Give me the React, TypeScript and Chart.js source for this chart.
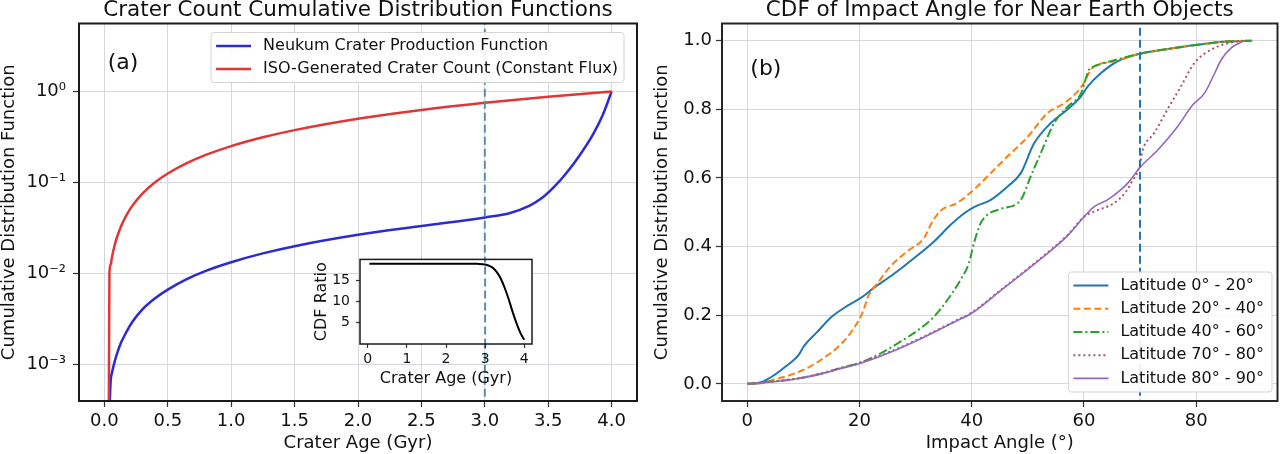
import React, { useEffect, useRef } from 'react';
import { Chart, registerables } from 'chart.js';

Chart.register(...registerables);

const FONT = "'DejaVu Sans', 'Liberation Sans', sans-serif";
const TEXT = '#111111';
const GRID = '#d6d7df';

// ---------- Panel (a): crater count CDFs (log y) ----------
const AGE_ISO = [0.035, 0.04, 0.05, 0.06, 0.08, 0.1, 0.13, 0.17, 0.22, 0.3, 0.4, 0.5, 0.65, 0.8, 1.0, 1.25, 1.5, 2.0, 2.5, 3.0, 3.5, 4.0];
const CDF_ISO = [0.0003, 0.01, 0.0125, 0.015, 0.02, 0.025, 0.0325, 0.0425, 0.055, 0.075, 0.1, 0.125, 0.1625, 0.2, 0.25, 0.3125, 0.375, 0.5, 0.625, 0.75, 0.875, 1.0];
const AGE_NEUKUM = [0.04, 0.05, 0.06, 0.08, 0.1, 0.13, 0.17, 0.22, 0.3, 0.4, 0.5, 0.65, 0.8, 1.0, 1.25, 1.5, 2.0, 2.5, 3.0, 3.2, 3.35, 3.45, 3.55, 3.65, 3.75, 3.85, 3.93, 4.0];
const CDF_NEUKUM = [0.0003, 0.00066, 0.0008, 0.00105, 0.0013, 0.0017, 0.0022, 0.0029, 0.004, 0.0053, 0.0066, 0.0086, 0.0106, 0.0132, 0.0165, 0.0198, 0.0264, 0.033, 0.041, 0.046, 0.055, 0.067, 0.09, 0.13, 0.2, 0.33, 0.55, 1.0];
const AGE_MARK = 3.0;
const X_TICKS_A = [0, 0.5, 1, 1.5, 2, 2.5, 3, 3.5, 4];
const Y_TICKS_A = [0.001, 0.01, 0.1, 1];
const Y_TICK_LABELS_A = ['10\u207B\u00B3', '10\u207B\u00B2', '10\u207B\u00B9', '10\u2070'];

// inset: CDF ratio
const AGE_RATIO = [0.04, 0.5, 1.0, 1.5, 2.0, 2.5, 2.8, 3.0, 3.1, 3.2, 3.3, 3.4, 3.5, 3.6, 3.7, 3.8, 3.9, 4.0];
const CDF_RATIO = [18.9, 18.9, 18.9, 18.9, 18.9, 18.9, 18.85, 18.7, 18.4, 17.9, 16.9, 15.4, 13.2, 10.6, 7.6, 4.9, 2.6, 0.9];
const X_TICKS_INSET = [0, 1, 2, 3, 4];
const Y_TICKS_INSET = [5, 10, 15];

// ---------- Panel (b): impact angle CDFs ----------
const ANG_LAT_0_20 = [0, 2, 4, 6.5, 9.2, 10.1, 12.4, 15.1, 17.8, 20.2, 22.6, 26.1, 29.7, 33.3, 36.3, 38.5, 40.4, 43.4, 46.4, 48.75, 51.1, 54.1, 57.1, 59.5, 60.7, 63.0, 66.0, 70.0, 75.0, 80.3, 85.0, 90.0];
const CDF_LAT_0_20 = [0, 0.002, 0.017, 0.046, 0.085, 0.11, 0.15, 0.196, 0.227, 0.25, 0.28, 0.32, 0.366, 0.415, 0.464, 0.495, 0.515, 0.536, 0.575, 0.614, 0.7, 0.76, 0.8, 0.838, 0.867, 0.905, 0.94, 0.962, 0.976, 0.988, 0.997, 1.0];
const ANG_LAT_20_40 = [0, 3, 4.7, 7.7, 10.7, 13.6, 16.6, 19.0, 20.5, 21.7, 23.2, 25.5, 28.5, 31.5, 33.0, 34.5, 37.4, 40.4, 43.4, 46.4, 50.0, 53.5, 56.5, 58.9, 59.8, 61.5, 65.4, 70.0, 75.0, 80.3, 85.0, 90.0];
const CDF_LAT_20_40 = [0, 0.003, 0.012, 0.026, 0.046, 0.075, 0.114, 0.162, 0.206, 0.26, 0.293, 0.342, 0.386, 0.425, 0.473, 0.505, 0.527, 0.566, 0.614, 0.663, 0.72, 0.789, 0.818, 0.852, 0.872, 0.92, 0.94, 0.962, 0.976, 0.988, 0.997, 1.0];
const ANG_LAT_40_60 = [0, 2.3, 7.7, 13.6, 16.6, 20.2, 23.8, 27.3, 30.9, 33.3, 35.7, 38.0, 39.5, 40.4, 41.6, 42.8, 45.2, 48.75, 50.5, 52.3, 54.7, 57.1, 59.5, 60.9, 61.8, 64.8, 70.0, 75.0, 80.3, 85.0, 90.0];
const CDF_LAT_40_60 = [0, 0.004, 0.012, 0.031, 0.046, 0.062, 0.089, 0.123, 0.162, 0.196, 0.245, 0.303, 0.352, 0.41, 0.468, 0.493, 0.51, 0.536, 0.604, 0.672, 0.76, 0.808, 0.847, 0.915, 0.925, 0.94, 0.962, 0.976, 0.988, 0.997, 1.0];
const ANG_LAT_70_80 = [0, 4.7, 10.7, 16.6, 20.2, 25.5, 31.5, 36.9, 40.2, 45.2, 52.3, 57.1, 60.1, 62.0, 65.4, 67.5, 68.4, 69.9, 70.5, 72.5, 74.9, 77.3, 79.7, 83.3, 87.4, 88.6];
const CDF_LAT_70_80 = [0, 0.007, 0.021, 0.046, 0.062, 0.094, 0.138, 0.182, 0.21, 0.274, 0.366, 0.434, 0.488, 0.503, 0.527, 0.56, 0.585, 0.634, 0.682, 0.73, 0.8, 0.867, 0.935, 0.979, 0.998, 1.0];
const ANG_LAT_80_90 = [0, 4.7, 10.7, 16.6, 20.2, 25.5, 31.5, 36.9, 40.2, 45.2, 52.3, 57.1, 60.1, 61.9, 64.2, 66.6, 68.1, 69.9, 73.2, 76.7, 79.4, 81.5, 83.3, 84.5, 86.25, 88.6];
const CDF_LAT_80_90 = [0, 0.006, 0.02, 0.044, 0.06, 0.092, 0.136, 0.18, 0.208, 0.272, 0.364, 0.432, 0.488, 0.517, 0.536, 0.566, 0.59, 0.629, 0.682, 0.75, 0.813, 0.847, 0.905, 0.945, 0.979, 1.0];
const ANGLE_MARK = 70;
const X_TICKS_B = [0, 20, 40, 60, 80];
const Y_TICKS_B = [0, 0.2, 0.4, 0.6, 0.8, 1.0];

const pts = (xs: number[], ys: number[]) => xs.map((x, i) => ({ x, y: ys[i] }));

// ---------- plugins ----------
const framePlugin = {
  id: 'frame',
  afterDatasetsDraw(chart: any, _a: any, opts: any) {
    if (!opts || !opts.color) return;
    const { ctx, chartArea: ca } = chart;
    ctx.save();
    ctx.strokeStyle = opts.color;
    ctx.lineWidth = opts.width;
    ctx.setLineDash([]);
    ctx.strokeRect(ca.left, ca.top, ca.right - ca.left, ca.bottom - ca.top);
    ctx.restore();
  },
};

const insetBgPlugin = {
  id: 'insetBg',
  beforeDraw(chart: any, _a: any, opts: any) {
    if (!opts || !opts.color) return;
    const { ctx, chartArea: ca } = chart;
    ctx.save();
    ctx.fillStyle = opts.color;
    ctx.fillRect(ca.left, ca.top, ca.right - ca.left, ca.bottom - ca.top);
    ctx.restore();
  },
};

const panelLabelPlugin = {
  id: 'panelLabel',
  afterDraw(chart: any, _a: any, opts: any) {
    if (!opts || !opts.text) return;
    const { ctx, chartArea: ca } = chart;
    ctx.save();
    ctx.font = `${opts.size}px ${FONT}`;
    ctx.fillStyle = TEXT;
    ctx.textAlign = 'center';
    ctx.textBaseline = 'middle';
    ctx.fillText(opts.text, ca.left + opts.fx * (ca.right - ca.left), ca.top + opts.fy * (ca.bottom - ca.top));
    ctx.restore();
  },
};

const boxLegendPlugin = {
  id: 'boxLegend',
  afterDraw(chart: any, _a: any, opts: any) {
    if (!opts || !opts.anchor) return;
    const { ctx, chartArea: ca } = chart;
    const items = chart.data.datasets.filter((d: any) => d.label);
    ctx.save();
    ctx.font = `${opts.fontSize}px ${FONT}`;
    const textW = Math.max(...items.map((d: any) => ctx.measureText(d.label).width));
    const w = opts.padL + opts.lineLen + opts.gap + textW + opts.padR;
    const h = opts.padT + opts.rowH * items.length + opts.padB;
    const x0 = ca.right - opts.dx - w;
    const y0 = opts.anchor === 'upper right' ? ca.top + opts.dy : ca.bottom - opts.dy - h;
    const r = 3;
    ctx.beginPath();
    ctx.moveTo(x0 + r, y0);
    ctx.lineTo(x0 + w - r, y0);
    ctx.quadraticCurveTo(x0 + w, y0, x0 + w, y0 + r);
    ctx.lineTo(x0 + w, y0 + h - r);
    ctx.quadraticCurveTo(x0 + w, y0 + h, x0 + w - r, y0 + h);
    ctx.lineTo(x0 + r, y0 + h);
    ctx.quadraticCurveTo(x0, y0 + h, x0, y0 + h - r);
    ctx.lineTo(x0, y0 + r);
    ctx.quadraticCurveTo(x0, y0, x0 + r, y0);
    ctx.closePath();
    ctx.fillStyle = 'rgba(255,255,255,0.9)';
    ctx.fill();
    ctx.strokeStyle = '#d4d4d4';
    ctx.lineWidth = 1;
    ctx.stroke();
    items.forEach((d: any, i: number) => {
      const yc = y0 + opts.padT + opts.rowH * (i + 0.5);
      const lx = x0 + opts.padL;
      ctx.beginPath();
      ctx.strokeStyle = d.borderColor;
      ctx.lineWidth = d.borderWidth;
      ctx.setLineDash(d.borderDash || []);
      ctx.moveTo(lx, yc);
      ctx.lineTo(lx + opts.lineLen, yc);
      ctx.stroke();
      ctx.setLineDash([]);
      ctx.fillStyle = TEXT;
      ctx.textAlign = 'left';
      ctx.textBaseline = 'middle';
      ctx.fillText(d.label, lx + opts.lineLen + opts.gap, yc);
    });
    ctx.restore();
  },
};

Chart.register(framePlugin, insetBgPlugin, panelLabelPlugin, boxLegendPlugin);

const line = (extra: any) => ({
  pointRadius: 0,
  pointHoverRadius: 0,
  fill: false,
  cubicInterpolationMode: 'monotone',
  ...extra,
});

const baseAxis = (o: any) => ({
  type: o.type || 'linear',
  min: o.min,
  max: o.max,
  afterFit: (s: any) => {
    if (o.width !== undefined) s.width = o.width;
    if (o.height !== undefined) s.height = o.height;
  },
  afterBuildTicks: (a: any) => {
    a.ticks = o.ticks.map((v: number) => ({ value: v }));
  },
  ticks: {
    callback: o.fmt,
    font: { family: FONT, size: o.tickSize },
    color: TEXT,
    padding: o.tickPad,
    autoSkip: false,
    maxRotation: 0,
  },
  grid: {
    display: true,
    drawOnChartArea: o.gridOn,
    color: GRID,
    lineWidth: 1,
    drawTicks: true,
    tickLength: o.tickLen,
    tickColor: '#333333',
    tickWidth: 1.2,
  },
  border: { display: false },
  title: {
    display: true,
    text: o.title,
    font: { family: FONT, size: o.titleSize, lineHeight: 1 },
    color: TEXT,
    padding: o.titlePad,
  },
});

export default function App() {
  const aRef = useRef<HTMLCanvasElement>(null);
  const bRef = useRef<HTMLCanvasElement>(null);
  const iRef = useRef<HTMLCanvasElement>(null);

  useEffect(() => {
    Chart.defaults.font.family = FONT;
    const charts: Chart[] = [];

    charts.push(
      new Chart(aRef.current as HTMLCanvasElement, {
        type: 'line',
        data: {
          datasets: [
            line({ label: 'Neukum Crater Production Function', data: pts(AGE_NEUKUM, CDF_NEUKUM), borderColor: '#2b2bd4', borderWidth: 2.5, order: 3 }),
            line({ label: 'ISO-Generated Crater Count (Constant Flux)', data: pts(AGE_ISO, CDF_ISO), borderColor: '#e03636', borderWidth: 2.5, order: 2 }),
            line({ label: '', data: pts([AGE_MARK, AGE_MARK], [1e-6, 1e3]), borderColor: '#5b8db0', borderWidth: 2, borderDash: [8, 4], cubicInterpolationMode: 'default', tension: 0, order: 1, clip: 0 }),
          ],
        },
        options: {
          responsive: false,
          animation: false,
          devicePixelRatio: 1,
          events: [],
          layout: { padding: { left: 0, right: 3, top: 0, bottom: 0 } },
          plugins: {
            legend: { display: false },
            tooltip: { enabled: false },
            title: {
              display: true,
              text: 'Crater Count Cumulative Distribution Functions',
              font: { family: FONT, size: 21.5, weight: 'normal', lineHeight: 1 },
              color: TEXT,
              padding: { top: 0, bottom: 2 },
              fullSize: false,
            },
            frame: { color: '#1a1a1a', width: 2 },
            panelLabel: { text: '(a)', fx: 0.079, fy: 0.106, size: 22 },
            boxLegend: { anchor: 'upper right', dx: 13, dy: 9, fontSize: 16, padL: 5, lineLen: 35, gap: 12, padR: 6, padT: 2, padB: 2, rowH: 23 },
          } as any,
          scales: {
            x: baseAxis({ min: -0.2, max: 4.2, ticks: X_TICKS_A, fmt: (v: any) => Number(v).toFixed(1), height: 53, tickSize: 18, tickPad: 4, tickLen: 6, gridOn: true, title: 'Crater Age (Gyr)', titleSize: 18, titlePad: { top: 0, bottom: 2 } }),
            y: baseAxis({ type: 'logarithmic', min: 3.92e-4, max: 5.59, ticks: Y_TICKS_A, fmt: (_v: any, i: number) => Y_TICK_LABELS_A[i], width: 79, tickSize: 18, tickPad: 7, tickLen: 6, gridOn: true, title: 'Cumulative Distribution Function', titleSize: 18, titlePad: { top: 0, bottom: 0 } }),
          } as any,
        },
      })
    );

    charts.push(
      new Chart(iRef.current as HTMLCanvasElement, {
        type: 'line',
        data: {
          datasets: [
            line({ label: '', data: pts(AGE_RATIO, CDF_RATIO), borderColor: '#000000', borderWidth: 2, order: 2 }),
            line({ label: '', data: pts([AGE_MARK, AGE_MARK], [-100, 100]), borderColor: '#5b8db0', borderWidth: 2, borderDash: [8, 4], cubicInterpolationMode: 'default', tension: 0, order: 1, clip: 0 }),
          ],
        },
        options: {
          responsive: false,
          animation: false,
          devicePixelRatio: 1,
          events: [],
          layout: { padding: { left: 0, right: 8, top: 9, bottom: 0 } },
          plugins: {
            legend: { display: false },
            tooltip: { enabled: false },
            title: { display: false },
            insetBg: { color: '#ffffff' },
            frame: { color: '#1a1a1a', width: 1.5 },
          } as any,
          scales: {
            x: baseAxis({ min: -0.2, max: 4.2, ticks: X_TICKS_INSET, fmt: (v: any) => String(v), height: 51, tickSize: 14, tickPad: 3, tickLen: 4, gridOn: false, title: 'Crater Age (Gyr)', titleSize: 16, titlePad: { top: 0, bottom: 8 } }),
            y: baseAxis({ min: -0.1, max: 19.9, ticks: Y_TICKS_INSET, fmt: (v: any) => String(v), width: 70, tickSize: 14, tickPad: 6, tickLen: 4, gridOn: false, title: 'CDF Ratio', titleSize: 16, titlePad: { top: 24, bottom: 0 } }),
          } as any,
        },
      })
    );

    charts.push(
      new Chart(bRef.current as HTMLCanvasElement, {
        type: 'line',
        data: {
          datasets: [
            line({ label: 'Latitude 0\u00B0 - 20\u00B0', data: pts(ANG_LAT_0_20, CDF_LAT_0_20), borderColor: '#1f77b4', borderWidth: 2, order: 6 }),
            line({ label: 'Latitude 20\u00B0 - 40\u00B0', data: pts(ANG_LAT_20_40, CDF_LAT_20_40), borderColor: '#ff7f0e', borderWidth: 2, borderDash: [7, 3.5], order: 5 }),
            line({ label: 'Latitude 40\u00B0 - 60\u00B0', data: pts(ANG_LAT_40_60, CDF_LAT_40_60), borderColor: '#2ca02c', borderWidth: 2, borderDash: [9, 3, 2, 3], order: 4 }),
            line({ label: 'Latitude 70\u00B0 - 80\u00B0', data: pts(ANG_LAT_70_80, CDF_LAT_70_80), borderColor: '#b0506c', borderWidth: 2, borderDash: [2, 3], order: 3 }),
            line({ label: 'Latitude 80\u00B0 - 90\u00B0', data: pts(ANG_LAT_80_90, CDF_LAT_80_90), borderColor: '#9467bd', borderWidth: 1.6, order: 2 }),
            line({ label: '', data: pts([ANGLE_MARK, ANGLE_MARK], [-10, 10]), borderColor: '#1f77b4', borderWidth: 2, borderDash: [8, 4], cubicInterpolationMode: 'default', tension: 0, order: 1, clip: 0 }),
          ],
        },
        options: {
          responsive: false,
          animation: false,
          devicePixelRatio: 1,
          events: [],
          layout: { padding: { left: 0, right: 2.5, top: 0, bottom: 0 } },
          plugins: {
            legend: { display: false },
            tooltip: { enabled: false },
            title: {
              display: true,
              text: 'CDF of Impact Angle for Near Earth Objects',
              font: { family: FONT, size: 21.5, weight: 'normal', lineHeight: 1 },
              color: TEXT,
              padding: { top: 0, bottom: 2 },
              fullSize: false,
            },
            frame: { color: '#262626', width: 2 },
            panelLabel: { text: '(b)', fx: 0.079, fy: 0.122, size: 22 },
            boxLegend: { anchor: 'lower right', dx: 5.5, dy: 9, fontSize: 16, padL: 5, lineLen: 35, gap: 12, padR: 8, padT: 2, padB: 2, rowH: 23.2 },
          } as any,
          scales: {
            x: baseAxis({ min: -4.5, max: 94.5, ticks: X_TICKS_B, fmt: (v: any) => String(v), height: 53, tickSize: 18, tickPad: 4, tickLen: 6, gridOn: true, title: 'Impact Angle (\u00B0)', titleSize: 18, titlePad: { top: 0, bottom: 2 } }),
            y: baseAxis({ min: -0.05, max: 1.05, ticks: Y_TICKS_B, fmt: (v: any) => Number(v).toFixed(1), width: 82, tickSize: 18, tickPad: 4, tickLen: 6, gridOn: true, title: 'Cumulative Distribution Function', titleSize: 18, titlePad: { top: 13, bottom: 0 } }),
          } as any,
        },
      })
    );

    return () => {
      charts.forEach((c) => c.destroy());
    };
  }, []);

  return (
    <div style={{ position: 'absolute', left: 0, top: 0, width: 1280, height: 454, background: '#ffffff', overflow: 'hidden' }}>
      <canvas ref={aRef} width={640} height={454} style={{ position: 'absolute', left: 0, top: 0 }} />
      <canvas ref={bRef} width={640} height={454} style={{ position: 'absolute', left: 640, top: 0 }} />
      <canvas ref={iRef} width={250} height={150} style={{ position: 'absolute', left: 290, top: 245 }} />
    </div>
  );
}
